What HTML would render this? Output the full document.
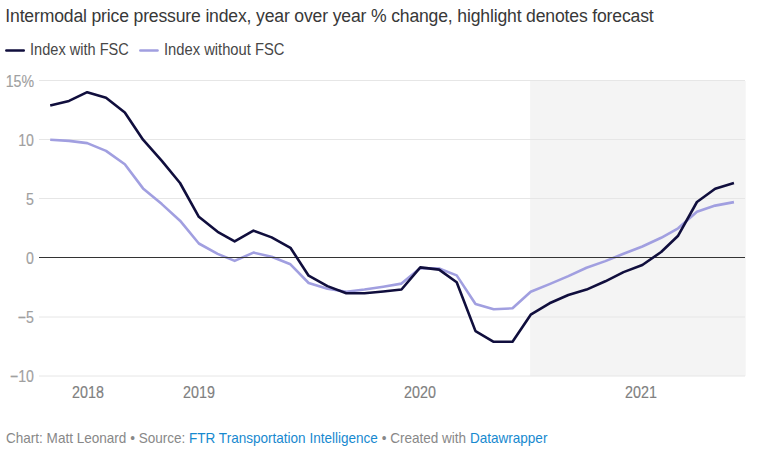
<!DOCTYPE html>
<html><head><meta charset="utf-8">
<style>
html,body{margin:0;padding:0;background:#fff;}
body{width:757px;height:460px;position:relative;overflow:hidden;font-family:"Liberation Sans",sans-serif;}
.t{position:absolute;white-space:nowrap;line-height:1;}
.title{color:#383838;}
.leg{color:#474747;}
.lg{position:absolute;height:3px;border-radius:1.5px;}
.yl{-webkit-text-stroke:0.15px #a0a0a0;color:#a0a0a0;text-align:right;width:60px;}
.xl{-webkit-text-stroke:0.15px #808080;color:#808080;text-align:center;width:60px;}
.foot{color:#888;}
.foot span{color:#1789cf;}
svg{position:absolute;left:0;top:0;}
</style></head><body>
<div class="t title" style="left:5.3px;top:8.0px;font-size:17.6px;transform:scale(1.0,1.0);transform-origin:left top;letter-spacing:-0.165px;">Intermodal price pressure index, year over year % change, highlight denotes forecast</div>
<svg width="757" height="60" style="position:absolute;left:0;top:0"><line x1="6.3" x2="23.8" y1="50.5" y2="50.5" stroke="#100e3d" stroke-width="2.4" stroke-linecap="round"/><line x1="140.3" x2="157.6" y1="50.5" y2="50.5" stroke="#a19fe0" stroke-width="2.4" stroke-linecap="round"/></svg>
<div class="t leg" style="left:30.1px;top:42.3px;font-size:15.6px;transform:scale(0.935,1.0);transform-origin:left top;letter-spacing:0px;">Index with FSC</div>
<div class="t leg" style="left:164.1px;top:42.3px;font-size:15.6px;transform:scale(0.945,1.0);transform-origin:left top;letter-spacing:0px;">Index without FSC</div>
<svg width="757" height="460" viewBox="0 0 757 460">
<rect x="530.15" y="81" width="215.55" height="295" fill="#f4f4f4"/>
<line x1="39" x2="745" y1="80.5" y2="80.5" stroke="#e6e6e6" stroke-width="1"/>
<line x1="39" x2="745" y1="139.5" y2="139.5" stroke="#e6e6e6" stroke-width="1"/>
<line x1="39" x2="745" y1="198.5" y2="198.5" stroke="#e6e6e6" stroke-width="1"/>
<line x1="39" x2="745" y1="317.0" y2="317.0" stroke="#e6e6e6" stroke-width="1"/>
<line x1="39" x2="745" y1="376.0" y2="376.0" stroke="#e6e6e6" stroke-width="1"/>
<path d="M50.20,139.70 L69.01,140.90 L87.21,143.10 L106.02,150.90 L124.82,164.20 L143.03,188.40 L161.83,204.10 L180.03,220.70 L198.84,243.50 L217.65,253.90 L234.64,260.90 L253.44,252.60 L271.65,256.70 L290.45,264.30 L308.65,283.00 L327.46,288.70 L346.27,291.70 L364.47,289.50 L383.28,286.70 L401.48,283.60 L420.29,268.10 L439.09,268.50 L456.69,275.40 L475.50,304.00 L493.70,309.30 L512.51,308.30 L530.71,291.80 L549.51,284.10 L568.32,276.10 L586.52,267.80 L605.33,261.10 L623.53,253.70 L642.34,246.50 L661.15,237.80 L678.13,228.30 L696.94,211.70 L715.14,205.60 L733.95,202.10" fill="none" stroke="#a19fe0" stroke-width="2.6" stroke-linejoin="round" stroke-linecap="butt"/>
<line x1="39" x2="745" y1="257.5" y2="257.5" stroke="#333" stroke-width="1"/>
<path d="M50.20,105.60 L69.01,100.90 L87.21,92.20 L106.02,97.70 L124.82,112.50 L143.03,139.70 L161.83,160.90 L180.03,183.00 L198.84,216.80 L217.65,231.80 L234.64,241.40 L253.44,230.60 L271.65,237.40 L290.45,247.80 L308.65,275.70 L327.46,286.10 L346.27,293.30 L364.47,293.30 L383.28,291.50 L401.48,289.50 L420.29,267.40 L439.09,269.60 L456.69,282.20 L475.50,331.10 L493.70,341.80 L512.51,341.80 L530.71,314.70 L549.51,303.30 L568.32,295.00 L586.52,289.60 L605.33,281.30 L623.53,272.10 L642.34,265.00 L661.15,252.00 L678.13,235.70 L696.94,202.00 L715.14,188.70 L733.95,183.00" fill="none" stroke="#100e3d" stroke-width="2.6" stroke-linejoin="round" stroke-linecap="butt"/>
</svg>
<div class="t yl" style="left:-26.4px;top:72.85px;font-size:15.4px;transform:scale(0.92,1.08);transform-origin:right top;letter-spacing:0px;">15%</div>
<div class="t yl" style="left:-26.4px;top:131.88px;font-size:15.4px;transform:scale(0.92,1.08);transform-origin:right top;letter-spacing:0px;">10</div>
<div class="t yl" style="left:-26.4px;top:190.91px;font-size:15.4px;transform:scale(0.92,1.08);transform-origin:right top;letter-spacing:0px;">5</div>
<div class="t yl" style="left:-26.4px;top:249.94px;font-size:15.4px;transform:scale(0.92,1.08);transform-origin:right top;letter-spacing:0px;">0</div>
<div class="t yl" style="left:-26.4px;top:308.97px;font-size:15.4px;transform:scale(0.92,1.08);transform-origin:right top;letter-spacing:0px;">−5</div>
<div class="t yl" style="left:-26.4px;top:368.0px;font-size:15.4px;transform:scale(0.92,1.08);transform-origin:right top;letter-spacing:0px;">−10</div>
<div class="t xl" style="left:58px;top:383.8px;font-size:15.4px;transform:scale(0.93,1.07);transform-origin:center top;letter-spacing:0px;">2018</div>
<div class="t xl" style="left:169px;top:383.8px;font-size:15.4px;transform:scale(0.93,1.07);transform-origin:center top;letter-spacing:0px;">2019</div>
<div class="t xl" style="left:390px;top:383.8px;font-size:15.4px;transform:scale(0.93,1.07);transform-origin:center top;letter-spacing:0px;">2020</div>
<div class="t xl" style="left:611px;top:383.8px;font-size:15.4px;transform:scale(0.93,1.07);transform-origin:center top;letter-spacing:0px;">2021</div>
<div class="t foot" style="left:5.5px;top:430.5px;font-size:14.2px;transform:scale(0.954,1.0);transform-origin:left top;letter-spacing:0px;">Chart: Matt Leonard • Source: <span>FTR Transportation Intelligence</span> • Created with <span>Datawrapper</span></div>
</body></html>
